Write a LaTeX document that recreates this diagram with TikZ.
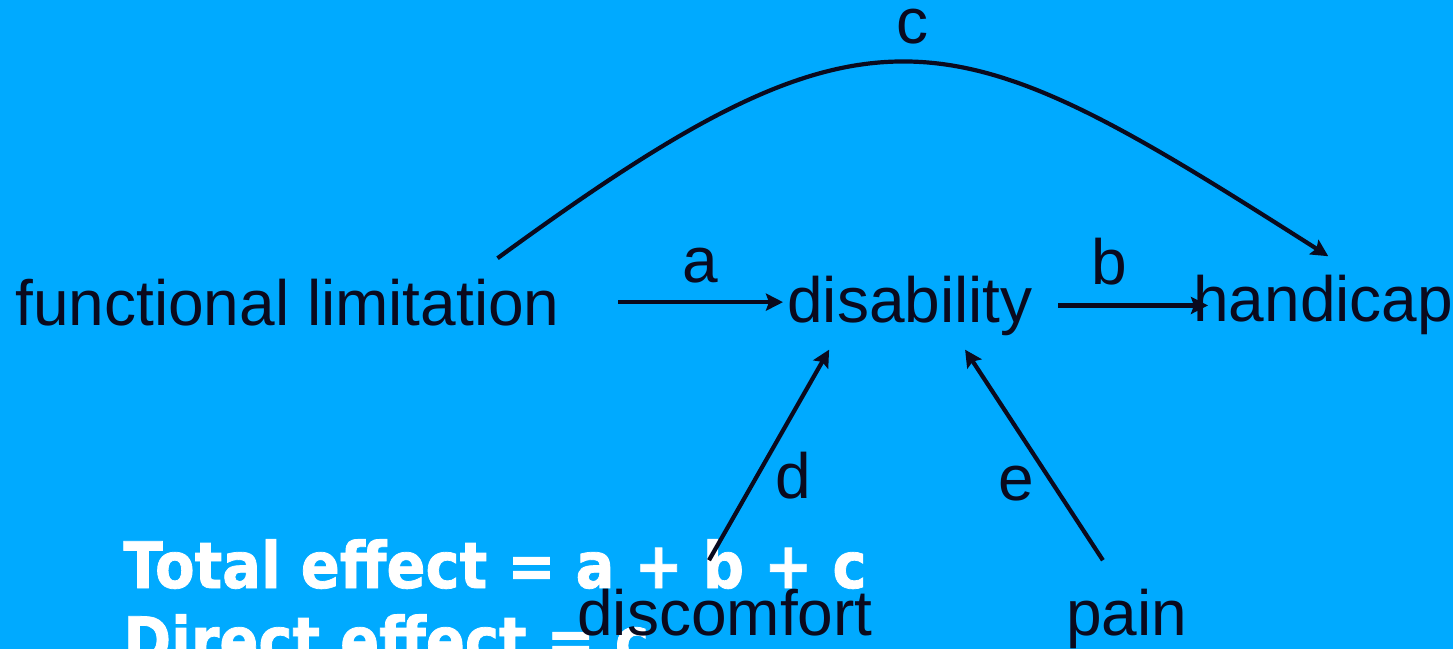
\documentclass[tikz,border=0pt]{standalone}
\usepackage{fontspec}
\setmainfont{Liberation Sans}
\newfontfamily\effectfont[FakeStretch=0.9,FakeBold=1.2]{DejaVu Sans}
\usetikzlibrary{arrows.meta,calc}
\tikzset{>={Stealth[length=8.5pt,width=8.5pt,inset=1.5pt]}}
\definecolor{SkyBG}{HTML}{00AAFF}
\definecolor{Ink}{HTML}{0A0A1E}

\begin{document}
\begin{tikzpicture}[x=0.5pt,y=-0.5pt]
  \tikzset{
    term/.style={inner sep=0pt, anchor=base west, text=Ink,
      font=\fontsize{32}{38}\selectfont},
    lbl/.style={inner sep=0pt, text=Ink, font=\fontsize{32}{38}\selectfont},
    effect/.style={inner sep=0pt, anchor=base west, text=white,
      font=\effectfont\bfseries\fontsize{32}{38}\selectfont},
    link/.style={->, line width=2.1pt, draw=Ink}
  }

  \fill[SkyBG] (0,0) rectangle (1453,649);
  \clip (0,0) rectangle (1453,649);

  % summary lines
  \node[effect] (tot) at (123,588) {Total effect = a + b + c};
  \node[effect] (dir) at (123,663) {Direct effect = c};

  % variables
  \node[term] (fl)  at (15,325)   {functional limitation};
  \node[term] (dis) at (787,322)  {disability};
  \node[term] (hc)  at (1193,321) {handicap};
  \node[term] (dc)  at (577,635)  {discomfort};
  \node[term] (pn)  at (1066,635) {pain};

  % paths
  \draw[link] ($(fl.east)+(58,0)$) -- ($(fl.east -| dis.west)+(-4,0)$)
    node[lbl, midway, above=8.5pt] {a};
  \draw[link] ($(dis.east)+(25,0)$) -- ($(dis.east -| hc.west)+(15,0)$)
    node[lbl, pos=0.34, above=9pt] {b};
  \draw[link] ($(fl.north)+(210,-20)$) .. controls (877,-19) and (948,14) ..
    ($(hc.north)+(5,-18)$) node[lbl, pos=0.5, above=8pt] {c};
  \draw[link] ($(dc.north)+(-16,-28)$) -- ($(dis.south)+(-81,14)$)
    node[lbl, pos=0.4, right=8pt] {d};
  \draw[link] ($(pn.north)+(-24,-28)$) -- ($(dis.south)+(55,14)$)
    node[lbl, pos=0.365, left=8pt] {e};
\end{tikzpicture}
\end{document}
